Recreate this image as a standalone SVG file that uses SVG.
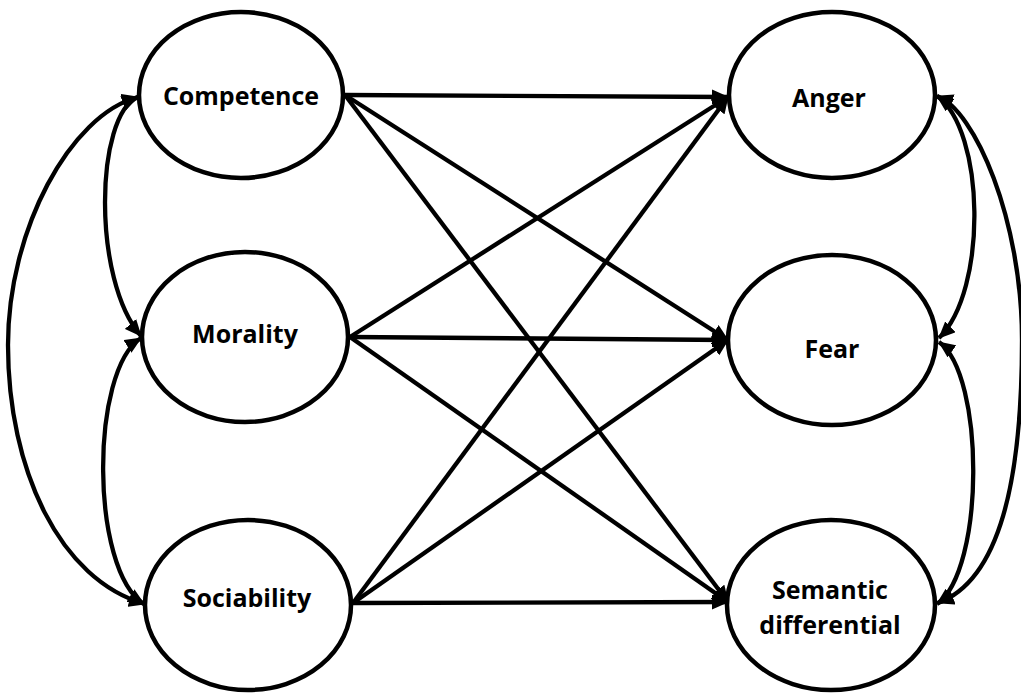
<svg xmlns="http://www.w3.org/2000/svg" width="1021" height="695" viewBox="0 0 1021 695">
<style>
.node ellipse{fill:#fff;stroke:#000;stroke-width:4.5}
.node text{font-family:"Open Sans","Liberation Sans",sans-serif;font-weight:bold;font-size:25px;text-anchor:middle;fill:#000}
.conn path,.conn line{fill:none;stroke:#000;stroke-width:4.3}
</style>
<defs>
<marker id="ah" markerUnits="userSpaceOnUse" markerWidth="17" markerHeight="15" refX="16" refY="7.5" orient="auto-start-reverse" viewBox="0 0 17 15">
<path d="M0,0 L17,7.5 L0,15 z" fill="#000"/>
</marker>
</defs>
<rect width="1021" height="695" fill="#fff"/>
<g id="connectors" class="conn">
<line x1="345" y1="95" x2="728" y2="97" marker-end="url(#ah)"/>
<line x1="345" y1="95" x2="728" y2="340" marker-end="url(#ah)"/>
<line x1="345" y1="95" x2="728" y2="602" marker-end="url(#ah)"/>
<line x1="350" y1="337" x2="728" y2="97" marker-end="url(#ah)"/>
<line x1="350" y1="337" x2="728" y2="340" marker-end="url(#ah)"/>
<line x1="350" y1="337" x2="728" y2="602" marker-end="url(#ah)"/>
<line x1="353" y1="603" x2="728" y2="97" marker-end="url(#ah)"/>
<line x1="353" y1="603" x2="728" y2="340" marker-end="url(#ah)"/>
<line x1="353" y1="603" x2="728" y2="602" marker-end="url(#ah)"/>
<path d="M138,97 C95,115 92,280 141,336" marker-start="url(#ah)" marker-end="url(#ah)"/>
<path d="M138,97 C70,115 8,230 8,345 C8,470 60,580 145,604" marker-start="url(#ah)" marker-end="url(#ah)"/>
<path d="M141,338 C90,370 90,570 144,604" marker-start="url(#ah)" marker-end="url(#ah)"/>
<path d="M937,96 C985,130 988,290 939,338" marker-start="url(#ah)" marker-end="url(#ah)"/>
<path d="M937,96 C975,110 1022,220 1022,340 C1022,480 1000,580 938,603" marker-start="url(#ah)" marker-end="url(#ah)"/>
<path d="M939,342 C985,375 985,570 937,604" marker-start="url(#ah)" marker-end="url(#ah)"/>
</g>
<g id="competence" class="node"><ellipse cx="241" cy="95" rx="102" ry="83"/><text x="241" y="105">Competence</text></g>
<g id="morality" class="node"><ellipse cx="245" cy="337" rx="103" ry="85"/><text x="245" y="343">Morality</text></g>
<g id="sociability" class="node"><ellipse cx="248" cy="605" rx="103" ry="85"/><text x="247" y="607">Sociability</text></g>
<g id="anger" class="node"><ellipse cx="832" cy="95" rx="103" ry="83"/><text x="829" y="107">Anger</text></g>
<g id="fear" class="node"><ellipse cx="832" cy="340" rx="104" ry="85"/><text x="832" y="358">Fear</text></g>
<g id="semantic" class="node"><ellipse cx="831" cy="605" rx="104" ry="85"/><text x="830" y="599">Semantic</text><text x="830" y="634">differential</text></g>
</svg>
